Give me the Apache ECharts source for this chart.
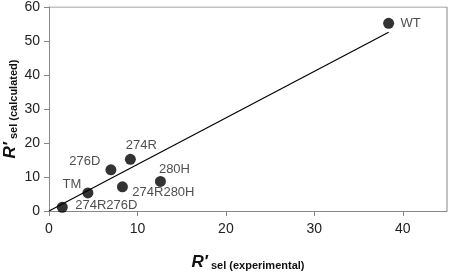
<!DOCTYPE html>
<html>
<head>
<meta charset="utf-8">
<script src="https://cdn.jsdelivr.net/npm/echarts@6/dist/echarts.min.js"></script>
<style>
  html, body { margin: 0; padding: 0; background: #fff; }
</style>
</head>
<body>
<div id="chart" style="width: 450px; height: 272px"></div>
<script>
  // mutants
  var names = ['WT', '274R', '276D', '280H', '274R280H', 'TM', '274R276D']
  var expVals = [38.4, 9.2, 7.0, 12.6, 8.3, 4.4, 1.5]
  var calcVals = [55.2, 15.2, 12.1, 8.7, 7.1, 5.3, 1.1]
  // fitted line through origin
  var fitX = [0, 38.4]
  var fitY = [0, 52.6]

  // label offsets per point
  var labelOffsets = [[22, 0], [11, -14], [-26, -8], [14, -12], [41, 6], [-16, -9], [44, -2]]

  var chart = echarts.init(document.getElementById('chart'))
  var font = 'Liberation Sans, Arial, sans-serif'

  var points = names.map(function (n, i) {
    return {
      value: [expVals[i], calcVals[i]],
      name: n,
      label: { show: true, position: 'inside', offset: labelOffsets[i], formatter: n },
    }
  })

  var option = {
    animation: false,
    grid: { left: 49, right: 3, top: 7, bottom: 61, outerBoundsMode: 'none', containLabel: false },
    xAxis: {
      type: 'value',
      min: 0,
      max: 45,
      interval: 10,
      splitLine: { show: false },
      axisLine: { lineStyle: { color: '#888' } },
      axisTick: { show: true, length: 5, lineStyle: { color: '#888' } },
      axisLabel: { color: '#222', fontSize: 14, fontFamily: font, margin: 11, showMaxLabel: false },
      name: '{r|R′}{s| sel (experimental)}',
      nameLocation: 'middle',
      nameGap: 43,
      nameMoveOverlap: false,
      nameTextStyle: {
        rich: {
          r: { fontSize: 17, fontWeight: 'bold', fontStyle: 'italic', fontFamily: font, color: '#111' },
          s: { fontSize: 11, fontWeight: 'bold', fontFamily: font, color: '#111', padding: [6, 0, 0, 0] },
        },
      },
    },
    yAxis: {
      type: 'value',
      min: 0,
      max: 60,
      interval: 10,
      splitLine: { show: false },
      axisLine: { show: true, lineStyle: { color: '#888' } },
      axisTick: { show: true, length: 5, lineStyle: { color: '#888' } },
      axisLabel: { color: '#222', fontSize: 14, fontFamily: font, margin: 9 },
      name: '{r|R′}{s| sel (calculated)}',
      nameLocation: 'middle',
      nameGap: 30,
      nameMoveOverlap: false,
      nameTextStyle: {
        rich: {
          r: { fontSize: 17, fontWeight: 'bold', fontStyle: 'italic', fontFamily: font, color: '#111' },
          s: { fontSize: 11, fontWeight: 'bold', fontFamily: font, color: '#111', padding: [6, 0, 0, 0] },
        },
      },
    },
    series: [
      {
        type: 'line',
        data: fitX.map(function (x, i) { return [x, fitY[i]] }),
        showSymbol: false,
        lineStyle: { color: '#000', width: 1.2 },
        z: 1,
      },
      {
        type: 'scatter',
        symbolSize: 11,
        itemStyle: { color: '#000' },
        label: { color: '#222', fontSize: 13, fontFamily: font },
        data: points,
        z: 2,
      },
      {
        // frame: top and right borders
        type: 'line',
        data: [[0, 60], [45, 60], [45, 0]],
        showSymbol: false,
        lineStyle: { color: '#888', width: 1 },
        silent: true,
        z: 0,
      },
    ],
  }
  chart.setOption(option)
</script>
</body>
</html>
